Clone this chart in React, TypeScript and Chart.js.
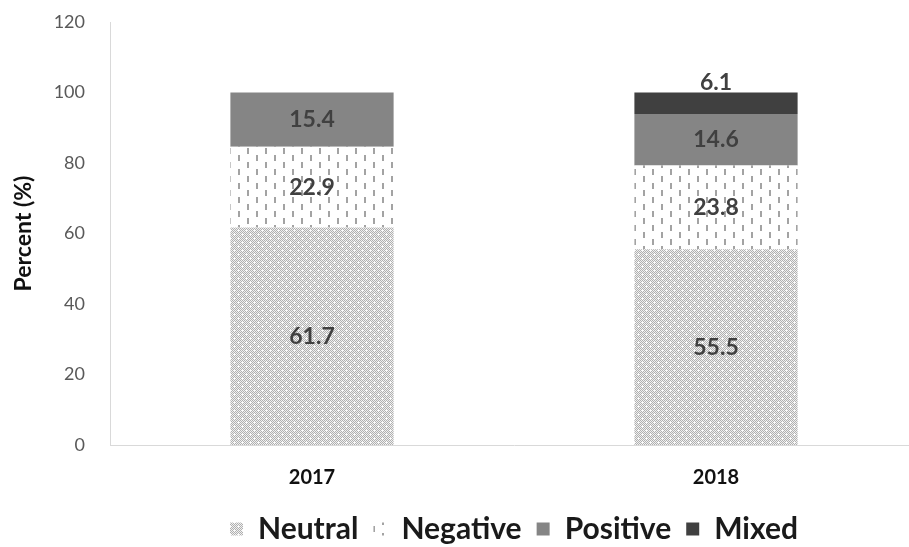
import React, { useEffect, useRef } from "react";
import { Chart, registerables } from "chart.js";

Chart.register(...registerables);

const categories = ["2017", "2018"];
const seriesNames = ["Neutral", "Negative", "Positive", "Mixed"];
const neutral = [61.7, 55.5];
const negative = [22.9, 23.8];
const positive = [15.4, 14.6];
const mixed = [0, 6.1];
const yTicks = [0, 20, 40, 60, 80, 100, 120];

const FONT = "Lato, 'Open Sans', sans-serif";

function neutralPattern(ctx: CanvasRenderingContext2D): CanvasPattern | string {
  const c = document.createElement("canvas");
  c.width = 8;
  c.height = 8;
  const g = c.getContext("2d")!;
  const img = g.createImageData(8, 8);
  const spots = new Set<string>();
  const addSpot = (cx: number, cy: number) => {
    spots.add(cx + "," + cy);
    spots.add(((cx + 1) % 8) + "," + cy);
    spots.add(((cx + 7) % 8) + "," + cy);
    spots.add(cx + "," + ((cy + 1) % 8));
    spots.add(cx + "," + ((cy + 7) % 8));
  };
  addSpot(2, 2);
  addSpot(6, 6);
  for (let y = 0; y < 8; y++) {
    for (let x = 0; x < 8; x++) {
      const i = (y * 8 + x) * 4;
      let v = (x + y) % 2 === 0 ? 176 : 240;
      if (spots.has(x + "," + y)) v = 250;
      img.data[i] = v;
      img.data[i + 1] = v;
      img.data[i + 2] = v;
      img.data[i + 3] = 255;
    }
  }
  g.putImageData(img, 0, 0);
  return ctx.createPattern(c, "repeat") || "#d0d0d0";
}

function negativePattern(ctx: CanvasRenderingContext2D): CanvasPattern | string {
  const c = document.createElement("canvas");
  c.width = 18;
  c.height = 14;
  const g = c.getContext("2d")!;
  g.fillStyle = "#ffffff";
  g.fillRect(0, 0, 18, 14);
  g.fillStyle = "#a3a3a3";
  g.fillRect(4, 1, 2, 6);
  g.fillRect(13, 8, 2, 6);
  return ctx.createPattern(c, "repeat") || "#f0f0f0";
}

const labelPlugin = {
  id: "segLabels",
  afterDatasetsDraw(chart: any) {
    const ctx = chart.ctx as CanvasRenderingContext2D;
    ctx.save();
    ctx.font = "bold 23px " + FONT;
    ctx.fillStyle = "#404040";
    ctx.textAlign = "center";
    ctx.textBaseline = "middle";
    chart.data.datasets.forEach((ds: any, di: number) => {
      const meta = chart.getDatasetMeta(di);
      meta.data.forEach((el: any, i: number) => {
        const v = ds.data[i];
        if (!v) return;
        let y = (el.y + el.base) / 2;
        if (di === 3) y = el.y - 10;
        ctx.fillText(v.toFixed(1), el.x, y);
      });
    });
    ctx.restore();
  },
};

export default function App() {
  const ref = useRef<HTMLCanvasElement | null>(null);

  useEffect(() => {
    document.body.style.overflow = "hidden";
    const canvas = ref.current!;
    const ctx = canvas.getContext("2d")!;
    const colors = [neutralPattern(ctx), negativePattern(ctx), "#858585", "#404040"];
    const values = [neutral, negative, positive, mixed];
    const chart = new Chart(canvas, {
      type: "bar",
      data: {
        labels: categories,
        datasets: seriesNames.map((name, k) => ({
          label: name,
          data: values[k],
          backgroundColor: colors[k] as any,
          borderWidth: 0,
          categoryPercentage: 1,
          barPercentage: 0.404,
        })),
      },
      options: {
        animation: false,
        responsive: true,
        maintainAspectRatio: false,
        layout: { padding: { top: 22, right: 0, left: 0, bottom: -7 } },
        plugins: {
          tooltip: { enabled: false },
          legend: {
            position: "bottom",
            fullSize: false,
            labels: {
              font: { family: FONT, size: 30, weight: "bold" },
              color: "#1a1a1a",
              boxWidth: 13,
              boxHeight: 13,
              padding: 15,
            },
          },
        },
        scales: {
          x: {
            stacked: true,
            grid: { display: false, drawTicks: false },
            border: { display: true, color: "#d9d9d9", width: 1 },
            ticks: {
              color: "#111111",
              font: { family: FONT, size: 20, weight: "bold" },
              padding: 21,
            },
            afterFit(scale: any) {
              scale.height = 54;
            },
          },
          y: {
            stacked: true,
            min: 0,
            max: 120,
            afterBuildTicks(scale: any) {
              scale.ticks = yTicks.map((v) => ({ value: v }));
            },
            grid: { display: false, drawTicks: false },
            border: { display: true, color: "#d9d9d9", width: 1 },
            ticks: {
              color: "#595959",
              font: { family: FONT, size: 18 },
              padding: 25,
            },
            title: {
              display: true,
              text: "Percent (%)",
              color: "#111111",
              font: { family: FONT, size: 23, weight: "bold" },
              padding: { top: 10, bottom: 0 },
            },
            afterFit(scale: any) {
              scale.width = 110;
              scale.paddingTop = 0;
              scale.paddingBottom = 0;
            },
          },
        },
      },
      plugins: [labelPlugin],
    });
    return () => chart.destroy();
  }, []);

  return (
    <div style={{ position: "fixed", left: 0, top: 0, width: "918px", height: "547px" }}>
      <canvas ref={ref} />
    </div>
  );
}
